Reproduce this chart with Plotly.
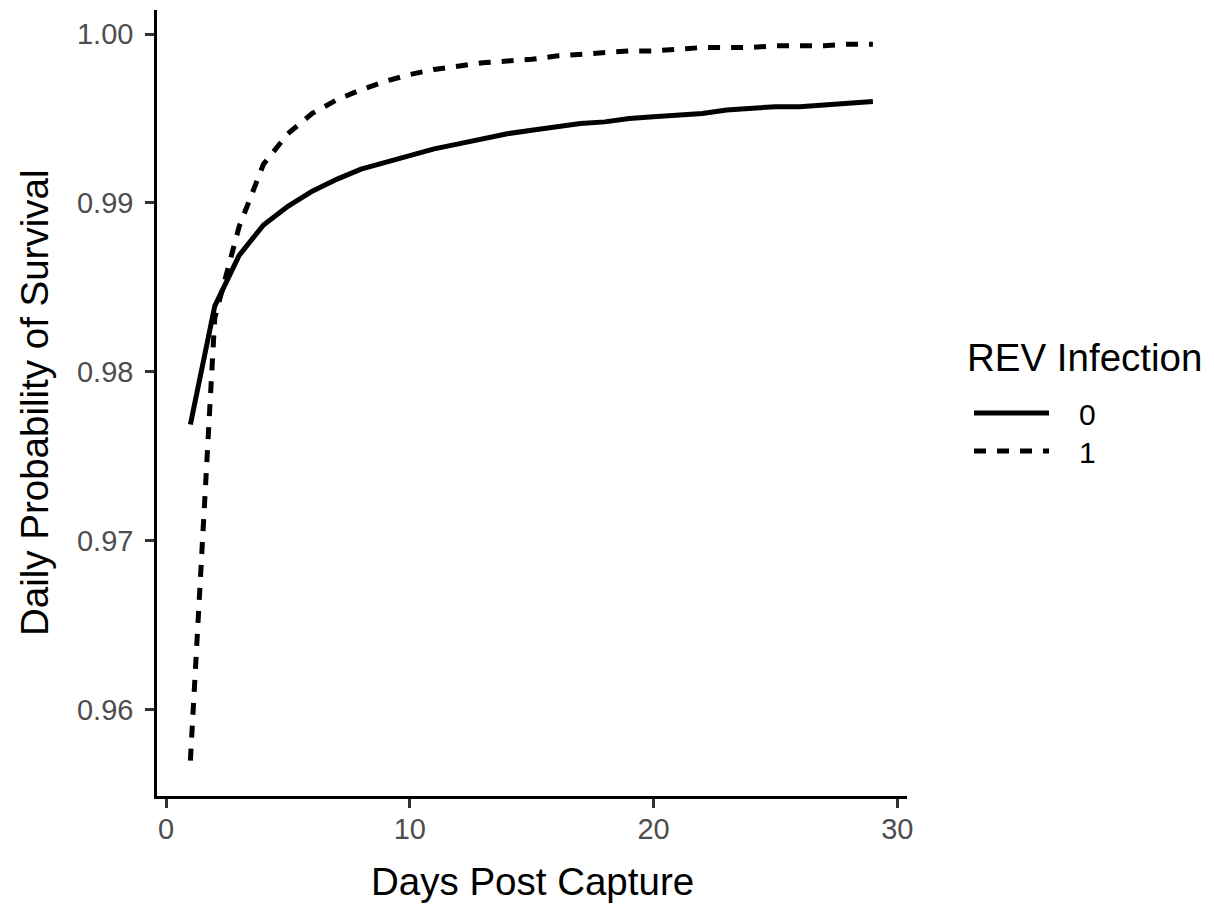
import plotly.graph_objects as go

# Daily survival probability by days post capture, for each REV infection status
days = list(range(1, 30))
surv_rev0 = [0.9769, 0.9839, 0.9869, 0.9887, 0.9898, 0.9907, 0.9914, 0.9920, 0.9924,
             0.9928, 0.9932, 0.9935, 0.9938, 0.9941, 0.9943, 0.9945, 0.9947, 0.9948,
             0.9950, 0.9951, 0.9952, 0.9953, 0.9955, 0.9956, 0.9957, 0.9957, 0.9958,
             0.9959, 0.9960]
surv_rev1 = [0.9570, 0.9832, 0.9886, 0.9923, 0.9941, 0.9953, 0.9961, 0.9967, 0.9972,
             0.9976, 0.9979, 0.9981, 0.9983, 0.9984, 0.9985, 0.9987, 0.9988, 0.9989,
             0.9990, 0.9990, 0.9991, 0.9992, 0.9992, 0.9992, 0.9993, 0.9993, 0.9993,
             0.9994, 0.9994]
legend_labels = ["0", "1"]
x_ticks = [0, 10, 20, 30]
y_ticks = [0.96, 0.97, 0.98, 0.99, 1.00]

FONT = "Liberation Sans, Arial, sans-serif"
W, H = 1214, 909
L, R, T, B = 157, 307, 10, 113
PW, PH = W - L - R, H - T - B
TITLE_SIZE = 38.5
TICK_SIZE = 29


def px(xp):
    return (xp - L) / PW


def py(yp):
    return (H - B - yp) / PH


DASH = "12px,11px"
LW = 5

fig = go.Figure()
fig.add_trace(go.Scatter(x=days, y=surv_rev0, mode="lines", name=legend_labels[0],
                         line=dict(color="black", width=LW, dash="solid"),
                         showlegend=False))
fig.add_trace(go.Scatter(x=days, y=surv_rev1, mode="lines", name=legend_labels[1],
                         line=dict(color="black", width=LW, dash=DASH),
                         showlegend=False))

axis_common = dict(
    showline=True, linecolor="black", linewidth=2.5,
    ticks="outside", ticklen=9, tickwidth=2.5, tickcolor="#333333",
    showgrid=False, zeroline=False,
    tickfont=dict(family=FONT, size=TICK_SIZE, color="#4D4D4D"),
)
fig.update_xaxes(range=[-0.37, 30.4], tickvals=x_ticks, ticklabelstandoff=-4,
                 **axis_common)
fig.update_yaxes(range=[0.95491, 1.00142], tickvals=y_ticks, tickformat=".2f",
                 ticklabelstandoff=6, **axis_common)

annotations = [
    dict(text="Days Post Capture", x=0.5, y=py(882), xref="paper", yref="paper",
         xanchor="center", yanchor="middle", showarrow=False,
         font=dict(family=FONT, size=TITLE_SIZE, color="black")),
    dict(text="Daily Probability of Survival", x=px(34), y=0.5, xref="paper", yref="paper",
         xanchor="center", yanchor="middle", textangle=-90, showarrow=False,
         font=dict(family=FONT, size=TITLE_SIZE, color="black")),
    dict(text="REV Infection", x=px(965), y=py(357), xref="paper", yref="paper",
         xanchor="left", yanchor="middle", showarrow=False,
         font=dict(family=FONT, size=TITLE_SIZE, color="black")),
    dict(text=legend_labels[0], x=px(1077), y=py(414), xref="paper", yref="paper",
         xanchor="left", yanchor="middle", showarrow=False,
         font=dict(family=FONT, size=30, color="black")),
    dict(text=legend_labels[1], x=px(1077), y=py(452), xref="paper", yref="paper",
         xanchor="left", yanchor="middle", showarrow=False,
         font=dict(family=FONT, size=30, color="black")),
]

shapes = [
    dict(type="line", xref="paper", yref="paper", x0=px(974), x1=px(1049),
         y0=py(413), y1=py(413), line=dict(color="black", width=LW, dash="solid")),
    dict(type="line", xref="paper", yref="paper", x0=px(974), x1=px(1049),
         y0=py(451), y1=py(451), line=dict(color="black", width=LW, dash=DASH)),
]

fig.update_layout(
    width=W, height=H, autosize=False,
    margin=dict(l=L, r=R, t=T, b=B, pad=0),
    paper_bgcolor="white", plot_bgcolor="white",
    showlegend=False,
    annotations=annotations, shapes=shapes,
)

fig.write_html("out.html")
